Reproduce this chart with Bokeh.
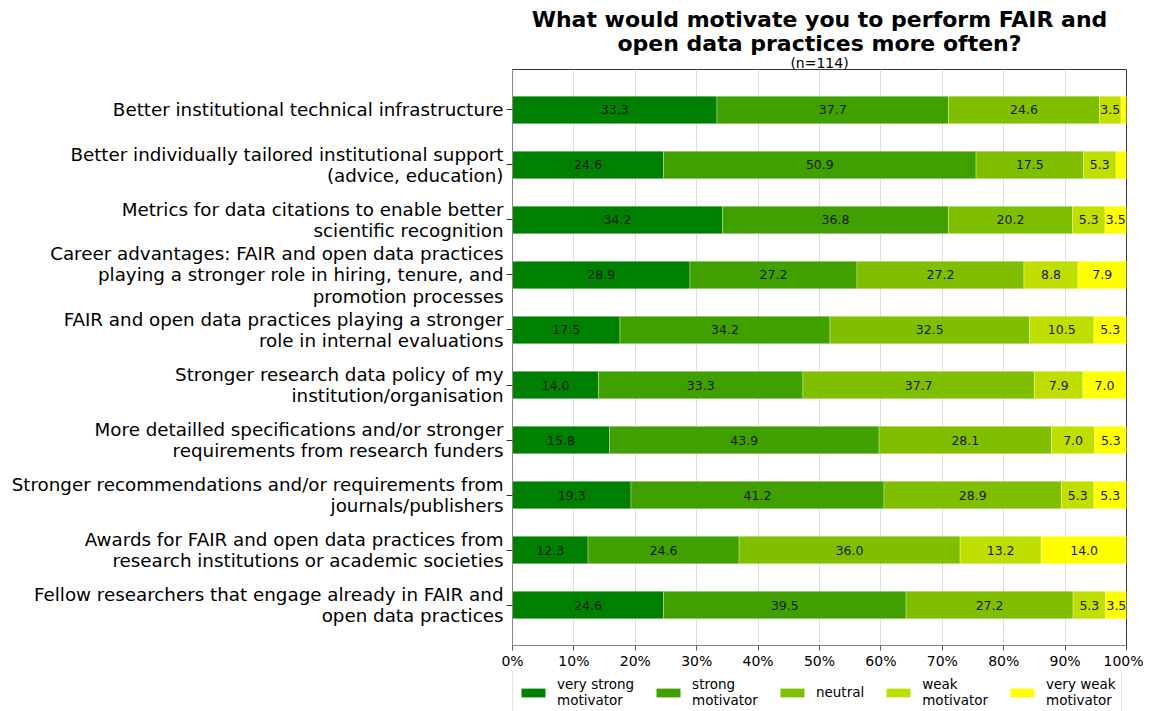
import numpy as np
from bokeh.plotting import figure
from bokeh.layouts import column
from bokeh.models import (ColumnDataSource, FixedTicker, PrintfTickFormatter, Title,
                          Legend, LegendItem, Range1d)
from bokeh.embed import file_html
from bokeh.resources import INLINE
from bokeh.core.properties import value

# ---------------- data ----------------
categories = [
    "Better institutional technical infrastructure",
    "Better individually tailored institutional support\n(advice, education)",
    "Metrics for data citations to enable better\nscientific recognition",
    "Career advantages: FAIR and open data practices\nplaying a stronger role in hiring, tenure, and\npromotion processes",
    "FAIR and open data practices playing a stronger\nrole in internal evaluations",
    "Stronger research data policy of my\ninstitution/organisation",
    "More detailled specifications and/or stronger\nrequirements from research funders",
    "Stronger recommendations and/or requirements from\njournals/publishers",
    "Awards for FAIR and open data practices from\nresearch institutions or academic societies",
    "Fellow researchers that engage already in FAIR and\nopen data practices",
]
very_strong = [33.3, 24.6, 34.2, 28.9, 17.5, 14.0, 15.8, 19.3, 12.3, 24.6]
strong      = [37.7, 50.9, 36.8, 27.2, 34.2, 33.3, 43.9, 41.2, 24.6, 39.5]
neutral     = [24.6, 17.5, 20.2, 27.2, 32.5, 37.7, 28.1, 28.9, 36.0, 27.2]
weak        = [3.5, 5.3, 5.3, 8.8, 10.5, 7.9, 7.0, 5.3, 13.2, 5.3]
very_weak   = [0.9, 1.8, 3.5, 7.9, 5.3, 7.0, 5.3, 5.3, 14.0, 3.5]
level_names = ["very strong\nmotivator", "strong\nmotivator", "neutral",
               "weak\nmotivator", "very weak\nmotivator"]
x_ticks = [0, 10, 20, 30, 40, 50, 60, 70, 80, 90, 100]
title_line1 = "What would motivate you to perform FAIR and"
title_line2 = "open data practices more often?"
subtitle = "(n=114)"

# ---------------- style ----------------
colors = ["#008000", "#40a000", "#80bf00", "#bfdf00", "#ffff00"]
FONT = "DejaVu Sans"

levels = [very_strong, strong, neutral, weak, very_weak]
n = len(categories)
ypos = [n - 1 - i for i in range(n)]

p = figure(frame_width=614, frame_height=576,
           x_range=Range1d(0, 100), y_range=Range1d(-0.735, n - 1 + 0.735),
           output_backend="svg", toolbar_location=None,
           min_border_left=512, min_border_right=17,
           min_border_top=69, min_border_bottom=0)

left = np.zeros(n)
sources = []
for vals, col in zip(levels, colors):
    vals = np.array(vals)
    right = left + vals
    src = ColumnDataSource(dict(y=ypos, left=left, right=right,
                                mid=(left + right) / 2,
                                txt=["%.1f" % v if v >= 2.5 else "" for v in vals]))
    sources.append(src)
    p.hbar(y="y", left="left", right="right", height=0.5, source=src,
           fill_color=col, line_color="white", line_width=0.6, line_alpha=0.5)
    p.text(x="mid", y="y", text="txt", source=src, text_align="center",
           text_baseline="middle", text_font=value(FONT), text_font_size="12.5px",
           text_color="#1a1a1a")
    left = right

# axes
p.xaxis.ticker = FixedTicker(ticks=x_ticks)
p.xaxis.formatter = PrintfTickFormatter(format="%d%%")
p.xaxis.major_label_text_font = FONT
p.xaxis.major_label_text_font_size = "14px"
p.xaxis.major_label_text_color = "black"
p.xaxis.major_tick_out = 5
p.xaxis.major_tick_in = 0
p.xaxis.minor_tick_line_color = None
p.xaxis.major_label_standoff = 2
p.xaxis.axis_line_color = "#888888"
p.xaxis.major_tick_line_color = "#555555"

p.yaxis.ticker = FixedTicker(ticks=ypos)
p.yaxis.major_label_overrides = {yy: c for yy, c in zip(ypos, categories)}
p.yaxis.major_label_text_font = FONT
p.yaxis.major_label_text_font_size = "18.3px"
p.yaxis.major_label_text_color = "black"
p.yaxis.major_label_text_line_height = 1.02
p.yaxis.major_tick_out = 6
p.yaxis.major_tick_in = 0
p.yaxis.minor_tick_line_color = None
p.yaxis.major_label_standoff = 3
p.yaxis.axis_line_color = "#888888"
p.yaxis.major_tick_line_color = "#333333"

p.ygrid.visible = False
p.xgrid.ticker = FixedTicker(ticks=x_ticks)
p.xgrid.grid_line_color = "#dddddd"
p.xgrid.grid_line_width = 1

p.outline_line_color = "#333333"
p.outline_line_width = 1

# titles (p.title is outermost; later-added titles sit farther from the frame)
p.title = Title(text=title_line1, align="center", text_font=FONT, text_font_size="22px",
                text_font_style="bold", text_color="black", standoff=-2, offset=0)
p.add_layout(Title(text=subtitle, align="center", text_font=FONT, text_font_size="14px",
                   text_font_style="normal", text_color="black", standoff=-3), "above")
p.add_layout(Title(text=title_line2, align="center", text_font=FONT, text_font_size="22px",
                   text_font_style="bold", text_color="black", standoff=-3), "above")

# legend strip below the chart: same data sources, y-range away from the bars
p2 = figure(width=1143, height=41, x_range=p.x_range, y_range=Range1d(n + 10, n + 11),
            output_backend="svg", toolbar_location=None,
            min_border_left=0, min_border_right=0, min_border_top=0, min_border_bottom=0)
p2.axis.visible = False
p2.grid.visible = False
p2.outline_line_color = None
legend_renderers = [p2.hbar(y="y", left="left", right="right", height=0.5, source=src,
                            fill_color=col, line_color=None)
                    for src, col in zip(sources, colors)]
legend = Legend(items=[LegendItem(label=nm, renderers=[r]) for nm, r in zip(level_names, legend_renderers)],
                orientation="horizontal", location=(0, -2),
                glyph_width=30, glyph_height=11, label_standoff=9, spacing=19,
                padding=5, margin=0,
                label_text_font=FONT, label_text_font_size="13.5px",
                label_text_line_height=1.0, label_text_color="black",
                border_line_color="#cccccc", background_fill_alpha=1)
p2.add_layout(legend)

open("out.html", "w").write(file_html(column(p, p2), INLINE))
